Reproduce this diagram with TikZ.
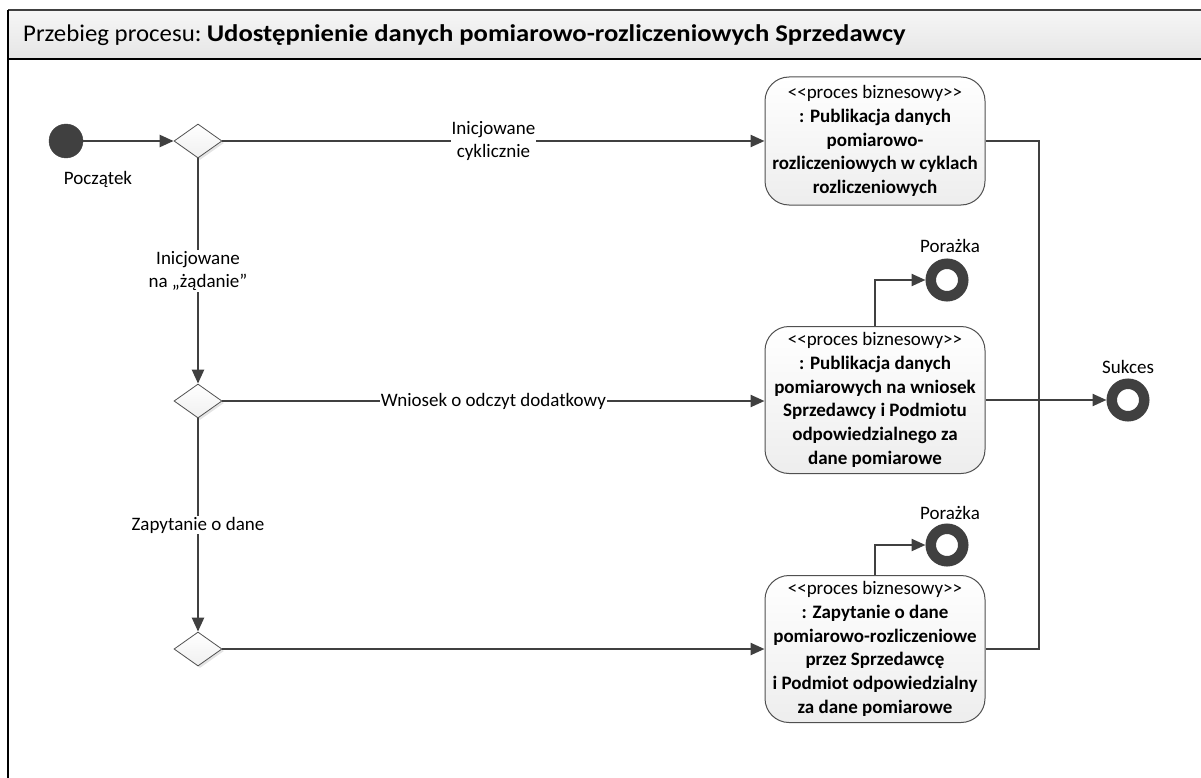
\documentclass[tikz,border=0pt]{standalone}
\usepackage{fontspec}
\newfontfamily\cf{Carlito}
\usetikzlibrary{shapes.geometric,arrows.meta,shadows}
\definecolor{dk}{HTML}{404040}
\definecolor{bd}{HTML}{505050}
\tikzset{
  base/.style={font=\cf\fontsize{19}{23.7}\selectfont},
  startc/.style={circle,fill=dk,draw=dk,minimum size=34pt,inner sep=0pt},
  endc/.style={circle,draw=dk,fill=white,line width=10.5pt,minimum size=32.5pt,inner sep=0pt},
  dec/.style={diamond,draw=bd,line width=0.8pt,top color=white,bottom color=gray!12,
    minimum width=48pt,minimum height=34pt,inner sep=0pt,
    drop shadow={shadow xshift=2pt,shadow yshift=-2pt,fill=gray!35,opacity=0.6}},
  proc/.style={base,draw=bd,line width=1pt,rounded corners=24pt,top color=white,bottom color=gray!14,
    minimum width=220pt,align=center,inner sep=0pt},
  lbl/.style={base,inner sep=1pt,align=center},
  elbl/.style={base,fill=white,inner sep=1pt,align=center},
  conn/.style={draw=dk,line width=2.4pt,-{Triangle[length=14pt,width=12pt]}},
  wire/.style={draw=dk,line width=2.4pt},
}
\begin{document}
\begin{tikzpicture}[x=1pt,y=-1pt]
\useasboundingbox (0,0) rectangle (1201,778);
% frame
\shade[top color=gray!7,bottom color=gray!20] (8,10) rectangle (1201,59);
\draw[dk,line width=1.6pt] (8,10) -- (1201,10);
\draw[black,line width=1.8pt] (8,59) -- (1201,59);
\draw[black,line width=1.6pt] (8,10) -- (8,778);
\node[anchor=west,font=\cf\fontsize{24}{28}\selectfont,inner sep=0pt] (title) at (23,35)
  {\scalebox{1.035}[1]{Przebieg procesu:} \scalebox{1.11}[1]{\bfseries Udostępnienie danych pomiarowo-rozliczeniowych Sprzedawcy}};
% nodes
\node[startc] (start) at (66,141) {};
\node[lbl] (lstart) at (98,179) {Początek};
\node[dec] (d1) at (198,141) {};
\node[dec] (d2) at (198,401) {};
\node[dec] (d3) at (198,649) {};
\node[proc,minimum height=128pt] (b1) at (875,141)
  {<<proces biznesowy>>\\ \bfseries : Publikacja danych\\ \bfseries pomiarowo-\\ \bfseries rozliczeniowych w cyklach\\ \bfseries rozliczeniowych};
\node[proc,minimum height=147pt] (b2) at (875,400)
  {<<proces biznesowy>>\\ \bfseries : Publikacja danych\\ \bfseries pomiarowych na wniosek\\ \bfseries Sprzedawcy i Podmiotu\\ \bfseries odpowiedzialnego za\\ \bfseries dane pomiarowe};
\node[proc,minimum height=147pt] (b3) at (875,649)
  {<<proces biznesowy>>\\ \bfseries : Zapytanie o dane\\ \bfseries pomiarowo-rozliczeniowe\\ \bfseries przez Sprzedawcę\\ \bfseries i Podmiot odpowiedzialny\\ \bfseries za dane pomiarowe};
\node[endc] (f1) at (947,280) {};
\node[lbl] (lf1) at (950,246) {Porażka};
\node[endc] (f2) at (947,545) {};
\node[lbl] (lf2) at (950,513) {Porażka};
\node[endc] (ok) at (1128,400) {};
\node[lbl] (lok) at (1128,367) {Sukces};
\coordinate (join) at (1039,400);
% connectors
\draw[conn] (start) -- (d1.west);
\draw[conn] (d1.east) -- node[elbl] {Inicjowane\\cyklicznie} (b1.west);
\draw[conn] (d1.south) -- node[elbl] {Inicjowane\\na „żądanie”} (d2.north);
\draw[conn] (d2.east) -- node[elbl] {Wniosek o odczyt dodatkowy} (b2.west |- d2);
\draw[conn] (d2.south) -- node[elbl] {Zapytanie o dane} (d3.north);
\draw[conn] (d3.east) -- (b3.west);
\draw[conn] (b2.north) |- (f1.west);
\draw[conn] (b3.north) |- (f2.west);
\draw[wire] (b1.east) -| (join);
\draw[wire] (b3.east) -| (join);
\draw[conn] (b2.east) -- (ok.west);
\end{tikzpicture}
\end{document}
